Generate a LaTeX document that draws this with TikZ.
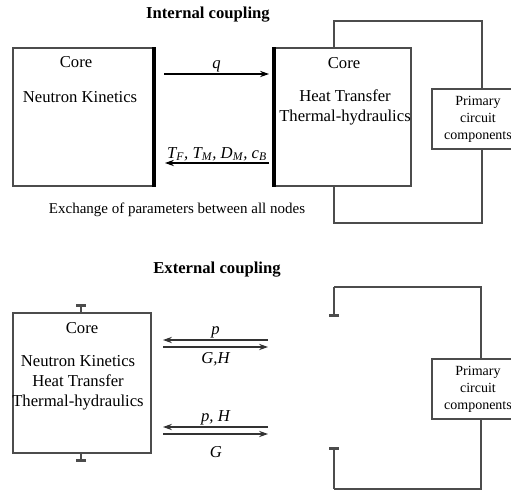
\documentclass[tikz,border=0pt]{standalone}
\usepackage{fontspec}
\setmainfont{Liberation Serif}
\usetikzlibrary{arrows.meta, positioning, fit}

\newcommand{\vsub}[2]{\textit{#1}\textsubscript{\textit{#2}}}

\tikzset{
  block/.style={draw=black!70, line width=0.7pt, inner sep=0pt},
  bar/.style={line width=2.4pt},
  link/.style={draw=black!70, line width=0.7pt},
  flow/.style={line width=0.7pt, -{Stealth[length=5.4pt, width=3.8pt]}},
  stub/.style={draw=black!70, line width=0.7pt, -{Bar[width=6pt, line width=1.6pt]}},
  lbl/.style={font=\itshape, inner sep=1pt},
  heading/.style={font=\bfseries},
  plant/.style={block, align=center, font=\fontsize{8.4}{10.2}\selectfont,
    minimum width=55.2pt, minimum height=36pt},
}

\begin{document}
\begin{tikzpicture}[x=0.6pt, y=-0.6pt, >=Stealth]
  \useasboundingbox (0,0) rectangle (511,491);

  % internal coupling
  \node[heading] (intT) at (208,15) {Internal coupling};

  \coordinate (nkA) at (13,48);
  \coordinate (nkB) at (153,186);
  \node[block, fit=(nkA)(nkB)] (nk) {};
  \node (nkCore) at (76,62) {Core};
  \node (nkText) at (80,97) {Neutron Kinetics};
  \draw[bar] (nk.north east) -- (nk.south east);

  \coordinate (thA) at (275,48);
  \coordinate (thB) at (411,186);
  \node[block, fit=(thA)(thB)] (th) {};
  \node (thCore) at (344,63) {Core};
  \node[align=center] (thText) at (345,107) {Heat Transfer\\Thermal-hydraulics};
  \draw[bar] (th.north west) -- (th.south west);

  \coordinate (qS) at (164,74);
  \coordinate (qE) at (269,74);
  \draw[flow] (qS) -- (qE) node[lbl, midway, above] (qL) {q};
  \coordinate (fbS) at (269,163);
  \coordinate (fbE) at (165,163);
  \draw[flow] (fbS) -- (fbE) node[lbl, midway, above] (fbL)
    {\vsub{T}{F}, \vsub{T}{M}, \vsub{D}{M}, \vsub{c}{B}};

  \node[font=\small] (exch) at (177,210) {Exchange of parameters between all nodes};

  \node[plant] (pc1) at (478,119) {Primary\\circuit\\components};
  \coordinate (loopT) at (334,21);
  \coordinate (loopB) at (334,223);
  \coordinate (loopR) at (482,21);
  \draw[link] (th.north -| loopT) -- (loopT) -- (loopR) -- (pc1.north -| loopR);
  \draw[link] (th.south -| loopB) -- (loopB) -| (pc1.south -| loopR);

  % external coupling
  \node[heading] (extT) at (217,270) {External coupling};

  \coordinate (coA) at (13,313);
  \coordinate (coB) at (151,453);
  \node[block, fit=(coA)(coB)] (co) {};
  \node (coCore) at (82,328) {Core};
  \node[align=center] (coText) at (78,383) {Neutron Kinetics\\Heat Transfer\\Thermal-hydraulics};
  \coordinate (stN) at (81,304);
  \coordinate (stS) at (81,462);
  \draw[stub] (co.north -| stN) -- (stN);
  \draw[stub] (co.south -| stS) -- (stS);

  \coordinate (aR) at (268,340);
  \coordinate (aL) at (163,340);
  \draw[flow, draw=black!80] (aR) -- (aL) node[lbl, midway, above] (aLbl) {p};
  \coordinate (bL) at (163,347);
  \coordinate (bR) at (268,347);
  \draw[flow, draw=black!80] (bL) -- (bR) node[lbl, midway, below=2pt] (bLbl) {G,H};

  \coordinate (cR) at (268,427);
  \coordinate (cL) at (163,427);
  \draw[flow, draw=black!80] (cR) -- (cL) node[lbl, midway, above] (cLbl) {p, H};
  \coordinate (dL) at (163,434);
  \coordinate (dR) at (268,434);
  \draw[flow, draw=black!80] (dL) -- (dR);
  \node[lbl] (dLbl) at (216,452) {G};

  \node[plant] (pc2) at (478,389) {Primary\\circuit\\components};
  \coordinate (rT) at (334,287);
  \coordinate (rB) at (334,489);
  \coordinate (rTs) at (334,317);
  \coordinate (rBs) at (334,447);
  \coordinate (rR) at (481,287);
  \draw[link] (pc2.north -| rR) |- (rT);
  \draw[stub] (rT) -- (rTs);
  \draw[link] (pc2.south -| rR) |- (rB);
  \draw[stub] (rB) -- (rBs);
\end{tikzpicture}
\end{document}
